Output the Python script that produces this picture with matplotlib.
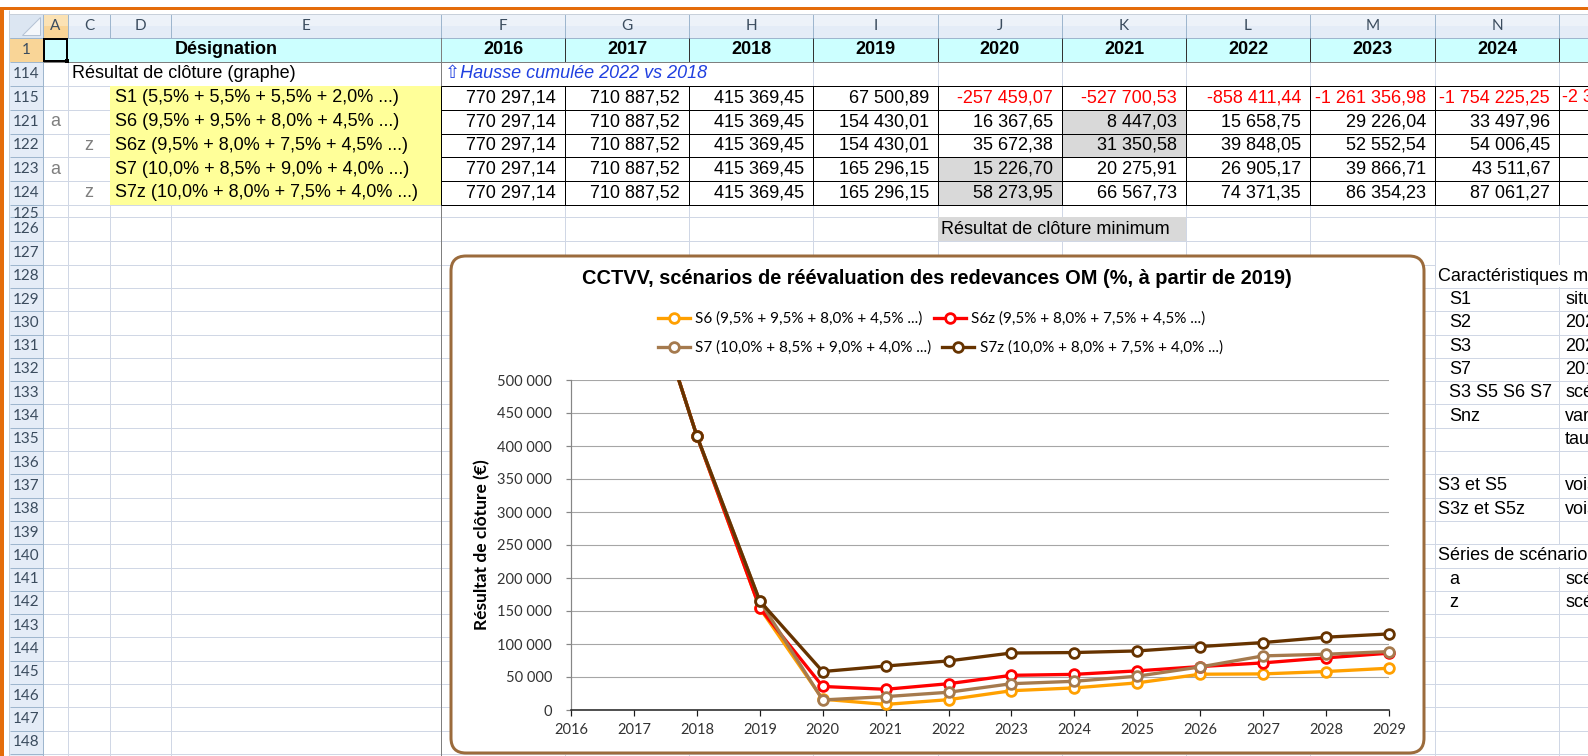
import matplotlib
matplotlib.use("Agg")
import matplotlib.pyplot as plt
from matplotlib.patches import Rectangle, FancyBboxPatch, Polygon
from matplotlib.lines import Line2D
from matplotlib.ticker import FuncFormatter

# ---------------- data ----------------
years = [2016, 2017, 2018, 2019, 2020, 2021, 2022, 2023, 2024, 2025, 2026, 2027, 2028, 2029]
table_years = years[:9]

s1_values = [770297.14, 710887.52, 415369.45, 67500.89, -257459.07, -527700.53,
             -858411.44, -1261356.98, -1754225.25]
s6_values = [770297.14, 710887.52, 415369.45, 154430.01, 16367.65, 8447.03, 15658.75,
             29226.04, 33497.96, 41100, 54200, 54700, 58300, 63300]
s6z_values = [770297.14, 710887.52, 415369.45, 154430.01, 35672.38, 31350.58, 39848.05,
              52552.54, 54006.45, 59300, 65800, 71400, 79000, 86100]
s7_values = [770297.14, 710887.52, 415369.45, 165296.15, 15226.70, 20275.91, 26905.17,
             39866.71, 43511.67, 51200, 65300, 82000, 84500, 88500]
s7z_values = [770297.14, 710887.52, 415369.45, 165296.15, 58273.95, 66567.73, 74371.35,
              86354.23, 87061.27, 89500, 96100, 102200, 110300, 115300]

scenario_labels = ["S1 (5,5% + 5,5% + 5,5% + 2,0% ...)",
                   "S6 (9,5% + 9,5% + 8,0% + 4,5% ...)",
                   "S6z (9,5% + 8,0% + 7,5% + 4,5% ...)",
                   "S7 (10,0% + 8,5% + 9,0% + 4,0% ...)",
                   "S7z (10,0% + 8,0% + 7,5% + 4,0% ...)"]
scenario_series = ["", "a", "z", "a", "z"]
table_rows = ["115", "121", "122", "123", "124"]
highlight_cells = [("121", 2021), ("122", 2021), ("123", 2020), ("124", 2020)]
col_letters = ["A", "C", "D", "E", "F", "G", "H", "I", "J", "K", "L", "M", "N", "O"]
chart_title = "CCTVV, scénarios de réévaluation des redevances OM (%, à partir de 2019)"
y_label = "Résultat de clôture (€)"
y_ticks = [0, 50000, 100000, 150000, 200000, 250000, 300000, 350000, 400000, 450000, 500000]
side_notes = [(128, "Caractéristiques m", False, ""), (129, "S1", True, "situ"),
              (130, "S2", True, "202"), (131, "S3", True, "202"), (132, "S7", True, "201"),
              (133, "S3 S5 S6 S7", True, "scé"), (134, "Snz", True, "var"),
              (135, "", True, "tau"), (137, "S3 et S5", False, "vois"),
              (138, "S3z et S5z", False, "vois"), (140, "Séries de scénario", False, ""),
              (141, "a", True, "scé"), (142, "z", True, "scé")]

# ---------------- styles ----------------
W, H, DPI = 1588, 756, 100
ORANGE = "#E46C0A"
GRID = "#D0D7E5"
HDR_BG = "#E4ECF7"
HDR_LINE = "#9EB6CE"
HDR_SEL = "#F9D597"
HDR_TXT = "#3B4C5E"
CYAN = "#CCFFFF"
YELLOW = "#FFFF99"
GRAYCELL = "#D9D9D9"
BLUE = "#2040E0"
FRAME = "#9B6B3C"
CELL_FONT = "Liberation Sans"
UI_FONT = "Lato"
series_colors = ["#FFA000", "#FF0000", "#A57A4E", "#663300"]


def fr(v):
    return f"{v:,.2f}".replace(",", " ").replace(".", ",")


fig = plt.figure(figsize=(W / DPI, H / DPI), dpi=DPI)
fig.patch.set_facecolor("white")
bg = fig.add_axes([0, 0, 1, 1])
bg.set_xlim(0, W)
bg.set_ylim(H, 0)
bg.axis("off")

PX = 72.0 / DPI


def rect(x0, y0, x1, y1, fc, z=3, ec="none", lw=0):
    p = Rectangle((x0, y0), x1 - x0, y1 - y0, facecolor=fc, edgecolor=ec,
                  linewidth=lw * PX, zorder=z)
    bg.add_patch(p)
    return p


def hl(y, x0, x1, c, lw=1, z=2):
    bg.plot([x0, x1], [y, y], color=c, lw=lw * PX, zorder=z, solid_capstyle="butt")


def vl(x, y0, y1, c, lw=1, z=2):
    bg.plot([x, x], [y0, y1], color=c, lw=lw * PX, zorder=z, solid_capstyle="butt")


def txt(x, y, s, **kw):
    kw.setdefault("va", "center")
    kw.setdefault("fontsize", 13)
    kw.setdefault("family", CELL_FONT)
    kw.setdefault("zorder", 5)
    return bg.text(x, y, s, **kw)


# geometry
col_edges = [43, 68, 110, 171, 441, 565, 689, 813, 938, 1062, 1186, 1310, 1435, 1559, 1683]
col_x = {c: (col_edges[i], col_edges[i + 1]) for i, c in enumerate(col_letters)}
year_col = {y: col_letters[4 + i] for i, y in enumerate(table_years)}

top_names = ["1", "114", "115", "121", "122", "123", "124", "125"]
top_edges = [38, 62, 86, 110, 133.5, 157, 181, 204.5, 217.4]
low_names = [str(r) for r in range(126, 150)]
low_edges = [218 + k * 23.3 for k in range(len(low_names) + 1)]
low_edges[0] = 217.4
row_names = top_names + low_names
row_edges = top_edges + low_edges[1:]
row_y = {n: (row_edges[i], row_edges[i + 1]) for i, n in enumerate(row_names)}


def rmid(n):
    a, b = row_y[n]
    return (a + b) / 2


# window chrome
rect(0, 7, W, 10, ORANGE, z=8)
rect(0, 7, 3.5, H, ORANGE, z=8)
vl(9, 10, H, "#C8D0DA", z=7)
hl(13.5, 9, W, "#C8D0DA", z=7)

# grid lines
for e in row_edges[1:]:
    hl(e, 43, W, GRID)
for e in col_edges:
    vl(e, 62, H, GRID)

# column header
rect(10, 14, W, 38, HDR_BG, z=3)
rect(10, 14, W, 26, "#EDF2F9", z=3)
rect(43, 14, 68, 38, HDR_SEL, z=3.5)
rect(43, 14, 68, 26, "#FBE2B4", z=3.5)
for e in col_edges:
    vl(e, 14, 38, HDR_LINE, z=4)
hl(38, 10, W, HDR_LINE, z=4)
for c in col_letters:
    a, b = col_x[c]
    txt((a + b) / 2, 26.5, c, ha="center", fontsize=11, family=UI_FONT, color=HDR_TXT)

# corner
rect(10, 14, 43, 38, "#DCE6F2", z=4)
bg.add_patch(Polygon([(22, 35), (40, 35), (40, 17)], closed=True, facecolor="#F4F7FB",
                     edgecolor="#B4C2D4", linewidth=PX, zorder=4.5))

# row header
rect(10, 38, 43, H, HDR_BG, z=3)
rect(10, 38, 43, 62, HDR_SEL, z=3.5)
for e in row_edges:
    hl(e, 10, 43, HDR_LINE, z=4)
vl(43, 14, H, HDR_LINE, z=4)
for n in row_names:
    a, b = row_y[n]
    t = txt(26.5, (a + b) / 2 + (3 if n == "125" else 0), n, ha="center", fontsize=11,
            family=UI_FONT, color=HDR_TXT)
    clip = Rectangle((10, a), 33, min(b, 213.5 if n == "125" else b) - a,
                     transform=bg.transData)
    t.set_clip_path(clip)

# row 1
rect(43, 38, W, 62, CYAN, z=3)
txt(226, 50, "Désignation", ha="center", weight="bold")
for y in table_years:
    a, b = col_x[year_col[y]]
    txt((a + b) / 2, 50, str(y), ha="center", weight="bold")
for e in col_edges[4:]:
    vl(e, 38, 62, "#333333", z=4)
hl(62, 43, W, "#7F7F7F", z=4)

# active cell A1
bg.add_patch(Rectangle((44, 39), 23, 22, facecolor="none", edgecolor="black",
                       linewidth=2 * PX, zorder=6))
rect(64.5, 58.5, 69, 63, "black", z=6)

# row 114
rect(68.5, 62.5, 440.5, 85.5, "white", z=3)
rect(441.5, 62.5, 812.5, 85.5, "white", z=3)
txt(72, rmid("114"), "Résultat de clôture (graphe)")
txt(445, rmid("114"), "\u21e7Hausse cumulée 2022 vs 2018", style="italic", color=BLUE,
    family=[CELL_FONT, "DejaVu Sans"])

# yellow labels
rect(110, 86, 441, 204.5, YELLOW, z=3)
table_series = [s1_values, s6_values[:9], s6z_values[:9], s7_values[:9], s7z_values[:9]]
for rn, lab, ser, vals in zip(table_rows, scenario_labels, scenario_series, table_series):
    ym = rmid(rn)
    txt(115, ym, lab)
    if ser == "a":
        txt(55.5, ym, ser, ha="center", color="#7F7F7F")
    elif ser == "z":
        txt(89, ym, ser, ha="center", color="#7F7F7F")
    for y, v in zip(table_years, vals):
        a, b = col_x[year_col[y]]
        txt(b - 9, ym, fr(v), ha="right", color="#FF0000" if v < 0 else "black")
txt(1562, rmid("115"), "-2 3", ha="left", color="#FF0000")

for rn, y in highlight_cells:
    a, b = col_x[year_col[y]]
    r0, r1 = row_y[rn]
    rect(a, r0, b, r1, GRAYCELL, z=3)

# data block borders
for e in top_edges[2:8]:
    hl(e, 441, W, "black", z=4.5)
for e in col_edges[4:]:
    vl(e, 86, 204.5, "black", z=4.5)
vl(441, 38, H, "#7F7F7F", z=4)

# lower notes
r0, r1 = row_y["126"]
rect(938, r0, 1185.5, r1, GRAYCELL, z=3)
txt(941, rmid("126"), "Résultat de clôture minimum")
for rn, left, indent, right in side_notes:
    n = str(rn)
    ym = rmid(n)
    if left:
        txt(1449 if indent else 1438, ym, left)
    if right:
        txt(1565, ym, right)
    if rn in (128, 140):
        a, b = row_y[n]
        rect(1435.5, a + 0.5, W, b - 0.5, "white", z=3)

# chart frame
bg.add_patch(FancyBboxPatch((451, 256), 1424 - 451, 753 - 256,
                            boxstyle="round,pad=0,rounding_size=15",
                            facecolor="white", edgecolor=FRAME, linewidth=3 * PX, zorder=50))
txt(937, 278, chart_title, ha="center", weight="bold", fontsize=14.4, zorder=60)
txt(482, 545, y_label, ha="center", rotation=90, weight="bold", fontsize=12.5,
    family=UI_FONT, zorder=60, color="black")

# ---------------- chart ----------------
L, R, T, B = 571, 1389, 380, 710
ax = fig.add_axes([L / W, 1 - B / H, (R - L) / W, (B - T) / H])
ax.set_facecolor("none")
ax.set_xlim(years[0], years[-1])
ax.set_ylim(0, 500000)
clip_rect = Rectangle((-0.03, -0.06), 1.06, 1.06, transform=ax.transAxes)
handles = []
names = scenario_labels[1:]
MS, MEW, LW = 7.0, 2.0, 3.3 * PX
for vals, col, nm in zip([s6_values, s6z_values, s7_values, s7z_values], series_colors, names):
    ln, = ax.plot(years, vals, color=col, lw=LW, marker="o", ms=MS,
                  mfc="white", mec=col, mew=MEW, label=nm, zorder=3)
    ln.set_clip_path(clip_rect)
    handles.append(Line2D([], [], color=col, lw=LW, marker="o", ms=MS, mfc="white",
                          mec=col, mew=MEW))

ax.set_yticks(y_ticks)
ax.yaxis.set_major_formatter(FuncFormatter(lambda v, p: f"{int(v):,}".replace(",", " ")))
ax.set_xticks(years)
ax.set_xticklabels([str(y) for y in years])
ax.yaxis.grid(True, color="#A6A6A6", lw=1.1 * PX)
ax.set_axisbelow(True)
for s in ("top", "right"):
    ax.spines[s].set_visible(False)
ax.spines["left"].set_color("#868686")
ax.spines["left"].set_linewidth(1.2 * PX)
ax.spines["bottom"].set_color("#1A1A1A")
ax.spines["bottom"].set_linewidth(1.5 * PX)
ax.tick_params(axis="x", direction="out", length=6 * PX, width=1.2 * PX, color="#1A1A1A",
               pad=5, labelsize=10.5, labelcolor="#333333")
ax.tick_params(axis="y", direction="out", length=5 * PX, width=1.2 * PX, color="#868686",
               pad=10, labelsize=10.5, labelcolor="#333333")
for lab in ax.get_xticklabels() + ax.get_yticklabels():
    lab.set_family(UI_FONT)

leg_kw = dict(loc="center left", bbox_transform=fig.transFigure, ncol=2, frameon=False,
              handlelength=2.1, handletextpad=0.35, columnspacing=0.7,
              borderpad=0, borderaxespad=0, prop={"family": UI_FONT, "size": 11})
leg1 = ax.legend(handles[:2], names[:2], bbox_to_anchor=(658 / W, 1 - 319 / H), **leg_kw)
ax.add_artist(leg1)
leg2 = ax.legend(handles[2:], names[2:], bbox_to_anchor=(658 / W, 1 - 348 / H), **leg_kw)

fig.savefig("out.png", dpi=DPI)
